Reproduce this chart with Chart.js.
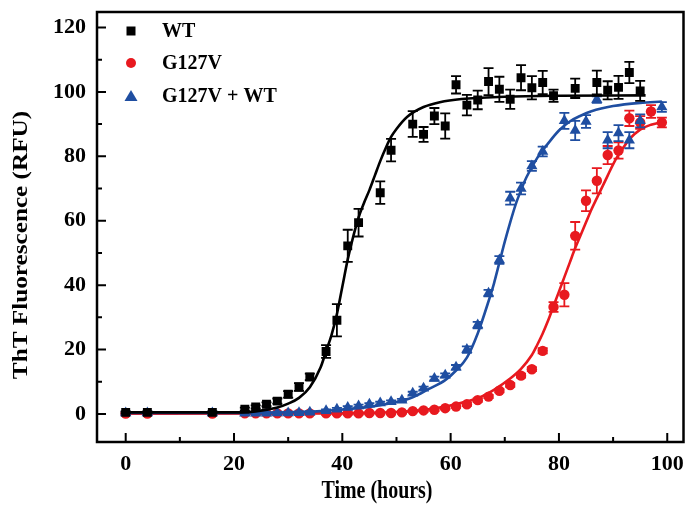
<!DOCTYPE html>
<html>
<head>
<meta charset="utf-8">
<title>ThT Fluorescence</title>
<script src="https://cdn.jsdelivr.net/npm/chart.js@4.4.1/dist/chart.umd.min.js"></script>
<style>
  body { margin: 0; background: #fff; }
  canvas { display: block; }
</style>
</head>
<body>
<canvas id="chartCanvas" width="690" height="508"></canvas>
<script>
const wtTime  = [0, 4, 16, 22, 24, 26, 28, 30, 32, 34, 37, 39, 41, 43, 47, 49, 53, 55, 57, 59, 61, 63, 65, 67, 69, 71, 73, 75, 77, 79, 83, 87, 89, 91, 93, 95];
const wtValue = [0.5, 0.5, 0.5, 1.5, 2.2, 3.0, 4.0, 6.1, 8.4, 11.5, 19.4, 29.1, 52.2, 59.4, 68.7, 81.9, 90.0, 86.8, 92.5, 89.4, 102.2, 95.9, 97.5, 103.2, 100.8, 97.7, 104.4, 101.3, 102.9, 98.8, 101.1, 102.9, 100.5, 101.4, 106.0, 100.3];
const wtError = [0.3, 0.3, 0.3, 0.5, 0.5, 0.6, 0.8, 1.0, 1.2, 1.0, 2.0, 5.0, 5.0, 4.3, 3.5, 3.5, 4.0, 2.3, 2.5, 3.9, 2.7, 3.2, 2.9, 4.2, 3.9, 3.0, 3.9, 3.6, 3.6, 1.9, 3.0, 3.7, 2.8, 3.6, 3.3, 3.1];

const mutTime  = [0, 4, 16, 22, 24, 26, 28, 30, 32, 34, 37, 39, 41, 43, 45, 47, 49, 51, 53, 55, 57, 59, 61, 63, 65, 67, 69, 71, 73, 75, 77, 79, 81, 83, 85, 87, 89, 91, 93, 95, 97, 99];
const mutValue = [0.1, 0.1, 0.1, 0.2, 0.2, 0.2, 0.2, 0.2, 0.2, 0.2, 0.2, 0.2, 0.2, 0.2, 0.3, 0.3, 0.3, 0.5, 0.9, 1.1, 1.3, 1.8, 2.3, 3.0, 4.3, 5.4, 7.2, 9.0, 11.9, 13.9, 19.6, 33.2, 37.0, 55.3, 66.2, 72.4, 80.4, 81.8, 91.8, 90.5, 93.9, 90.5];
const mutError = [0.4, 0.4, 0.4, 0.4, 0.4, 0.4, 0.4, 0.4, 0.4, 0.4, 0.4, 0.4, 0.4, 0.4, 0.4, 0.4, 0.4, 0.4, 0.4, 0.4, 0.4, 0.4, 0.4, 0.5, 0.5, 0.5, 0.5, 0.6, 0.6, 0.6, 0.8, 1.5, 3.6, 4.3, 3.2, 3.9, 2.8, 2.5, 2.4, 2.0, 2.0, 1.5];

const mixTime  = [0, 4, 16, 22, 24, 26, 28, 30, 32, 34, 37, 39, 41, 43, 45, 47, 49, 51, 53, 55, 57, 59, 61, 63, 65, 67, 69, 71, 73, 75, 77, 81, 83, 85, 87, 89, 91, 93, 95, 99];
const mixValue = [0.3, 0.3, 0.3, 0.2, 0.2, 0.2, 0.3, 0.3, 0.4, 0.5, 1.0, 1.5, 2.0, 2.5, 3.0, 3.4, 3.8, 4.3, 6.4, 8.0, 11.0, 12.0, 14.5, 20.0, 27.6, 37.5, 47.8, 67.0, 70.0, 77.0, 81.5, 91.0, 88.0, 90.8, 97.6, 85.0, 87.2, 85.0, 91.0, 95.3];
const mixError = [0.4, 0.4, 0.4, 0.4, 0.4, 0.4, 0.4, 0.4, 0.4, 0.4, 0.4, 0.4, 0.4, 0.4, 0.4, 0.4, 0.4, 0.4, 0.5, 0.5, 0.6, 0.6, 0.7, 1.0, 1.0, 1.0, 1.2, 2.0, 1.8, 1.5, 1.5, 2.5, 3.0, 2.0, 1.0, 2.5, 2.5, 2.5, 2.0, 1.5];

// fitted sigmoid curves
const wtFitTime  = [0, 20, 24, 28, 30, 32, 34, 36, 37, 38, 39, 40, 41, 42, 43, 44, 45, 46, 47, 48, 49, 50, 52, 55, 58, 62, 70, 80, 96];
const wtFitValue = [0.5, 0.5, 0.8, 2.0, 3.2, 5.0, 8.3, 14.5, 19.5, 24.5, 31.0, 39.5, 48.0, 55.0, 61.0, 65.5, 69.5, 74.0, 78.5, 82.5, 86.0, 88.5, 92.3, 95.3, 96.8, 97.8, 98.5, 98.8, 98.9];

const mutFitTime  = [0, 40, 50, 55, 59, 62, 65, 68, 71, 73, 75, 76, 77, 78, 79, 80, 81, 82, 83, 84, 85, 86, 87, 88, 89, 90, 91, 92, 93, 95, 97, 99];
const mutFitValue = [0.1, 0.2, 0.6, 1.2, 2.3, 3.5, 4.9, 7.5, 11.0, 14.0, 18.3, 21.5, 25.0, 29.0, 33.5, 38.0, 42.5, 47.0, 51.5, 55.5, 59.5, 63.5, 67.0, 70.5, 74.0, 77.5, 80.5, 83.0, 85.3, 88.3, 89.8, 90.6];

const mixFitTime  = [0, 20, 30, 36, 40, 45, 50, 53, 56, 59, 61, 63, 65, 67, 68, 69, 70, 71, 72, 73, 74, 76, 78, 80, 82, 84, 86, 90, 95, 99];
const mixFitValue = [0.3, 0.3, 0.5, 0.9, 1.4, 2.2, 3.7, 5.2, 7.8, 10.5, 13.5, 17.5, 25.0, 35.0, 40.5, 47.0, 53.5, 59.5, 65.0, 69.5, 73.5, 79.5, 84.0, 88.0, 90.8, 92.6, 94.0, 95.6, 96.6, 97.0];

const xTicks = [0, 20, 40, 60, 80, 100];
const xMinor = [10, 30, 50, 70, 90];
const yTicks = [0, 20, 40, 60, 80, 100, 120];
const yMinor = [10, 30, 50, 70, 90, 110];

const seriesNames = ['WT', 'G127V', 'G127V + WT'];

const BLACK = '#000000';
const RED = '#e8191f';
const BLUE = '#1f4ea1';
const FONT = '"Liberation Serif", "Times New Roman", serif';

const pts = (xs, ys) => xs.map((t, i) => ({x: t, y: ys[i]}));

// error bars drawn just before each point dataset
const errorBars = {
    id: 'errorBars',
    beforeDatasetDraw(chart, args) {
        const ds = chart.data.datasets[args.index];
        if (!ds.errors) return;
        const ctx = chart.ctx;
        const xs = chart.scales.x, ys = chart.scales.y;
        ctx.save();
        ctx.strokeStyle = ds.borderColor;
        ctx.lineWidth = 1.8;
        ds.data.forEach((p, i) => {
            const px = xs.getPixelForValue(p.x);
            const top = ys.getPixelForValue(p.y + ds.errors[i]);
            const bot = ys.getPixelForValue(p.y - ds.errors[i]);
            ctx.beginPath();
            ctx.moveTo(px, top); ctx.lineTo(px, bot);
            ctx.moveTo(px - 5, top); ctx.lineTo(px + 5, top);
            ctx.moveTo(px - 5, bot); ctx.lineTo(px + 5, bot);
            ctx.stroke();
        });
        ctx.restore();
    }
};

// box, inward ticks, axis titles, legend
const decorations = {
    id: 'decorations',
    afterDraw(chart) {
        const ctx = chart.ctx;
        const a = chart.chartArea;
        const xs = chart.scales.x, ys = chart.scales.y;
        ctx.save();
        ctx.strokeStyle = BLACK;
        ctx.lineWidth = 2.5;
        ctx.strokeRect(a.left, a.top, a.right - a.left, a.bottom - a.top);

        ctx.lineWidth = 2;
        ctx.beginPath();
        xTicks.concat(xMinor).forEach(v => {
            const px = xs.getPixelForValue(v);
            const len = xTicks.includes(v) ? 9 : 5;
            ctx.moveTo(px, a.bottom); ctx.lineTo(px, a.bottom - len);
        });
        yTicks.concat(yMinor).forEach(v => {
            const py = ys.getPixelForValue(v);
            const len = yTicks.includes(v) ? 9 : 5;
            ctx.moveTo(a.left, py); ctx.lineTo(a.left + len, py);
        });
        ctx.stroke();

        ctx.fillStyle = BLACK;
        ctx.font = 'bold 21px ' + FONT;
        ctx.textAlign = 'center';
        ctx.textBaseline = 'middle';
        ctx.save();
        ctx.translate(377, 492);
        ctx.scale(0.95, 1.15);
        ctx.fillText('Time (hours)', 0, 0);
        ctx.restore();
        ctx.save();
        ctx.translate(22, 245);
        ctx.rotate(-Math.PI / 2);
        ctx.scale(1.2, 0.95);
        ctx.fillText('ThT Fluorescence (RFU)', 0, 0);
        ctx.restore();

        // legend
        const rows = [31, 63, 96];
        ctx.font = 'bold 20px ' + FONT;
        ctx.textAlign = 'left';
        rows.forEach((ry, i) => {
            const mx = 131;
            ctx.fillStyle = [BLACK, RED, BLUE][i];
            ctx.beginPath();
            if (i === 0) ctx.rect(mx - 4.5, ry - 4.5, 9, 9);
            if (i === 1) ctx.arc(mx, ry, 5, 0, Math.PI * 2);
            if (i === 2) { ctx.moveTo(mx, ry - 6); ctx.lineTo(mx + 6.5, ry + 5); ctx.lineTo(mx - 6.5, ry + 5); ctx.closePath(); }
            ctx.fill();
            ctx.fillStyle = BLACK;
            ctx.fillText(seriesNames[i], 162, ry + 1);
        });
        ctx.restore();
    }
};

const tickFont = {family: FONT, weight: 'bold', size: 22};
const noPad = s => { s.paddingLeft = 0; s.paddingRight = 0; s.paddingTop = 0; s.paddingBottom = 0; };

const config = {
    type: 'scatter',
    data: {
        datasets: [
            {label: 'WT', data: pts(wtTime, wtValue), errors: wtError, pointStyle: 'rect', pointRadius: 6.3, backgroundColor: BLACK, borderColor: BLACK, borderWidth: 0},
            {label: 'WT fit', data: pts(wtFitTime, wtFitValue), showLine: true, pointRadius: 0, borderColor: BLACK, borderWidth: 2.6, cubicInterpolationMode: 'monotone'},
            {label: 'G127V + WT', data: pts(mixTime, mixValue), errors: mixError, pointStyle: 'triangle', pointRadius: 6.5, backgroundColor: BLUE, borderColor: BLUE, borderWidth: 0},
            {label: 'G127V + WT fit', data: pts(mixFitTime, mixFitValue), showLine: true, pointRadius: 0, borderColor: BLUE, borderWidth: 2.6, cubicInterpolationMode: 'monotone'},
            {label: 'G127V', data: pts(mutTime, mutValue), errors: mutError, pointStyle: 'circle', pointRadius: 5.2, backgroundColor: RED, borderColor: RED, borderWidth: 0},
            {label: 'G127V fit', data: pts(mutFitTime, mutFitValue), showLine: true, pointRadius: 0, borderColor: RED, borderWidth: 2.6, cubicInterpolationMode: 'monotone'}
        ]
    },
    options: {
        responsive: false,
        animation: false,
        layout: {padding: {top: 12, right: 4, left: 0, bottom: 0}},
        plugins: {legend: {display: false}, tooltip: {enabled: false}},
        scales: {
            x: {
                type: 'linear', min: -5.3, max: 103,
                afterFit: s => { noPad(s); s.height = 66; },
                grid: {display: false, drawTicks: false},
                border: {display: false},
                ticks: {stepSize: 20, includeBounds: false, padding: 9, color: BLACK, font: tickFont}
            },
            y: {
                type: 'linear', min: -8.7, max: 124.8,
                afterFit: s => { noPad(s); s.width = 97; },
                grid: {display: false, drawTicks: false},
                border: {display: false},
                ticks: {stepSize: 20, includeBounds: false, padding: 11, color: BLACK, font: tickFont}
            }
        }
    },
    plugins: [errorBars, decorations]
};

new Chart(document.getElementById('chartCanvas').getContext('2d'), config);
</script>
</body>
</html>
